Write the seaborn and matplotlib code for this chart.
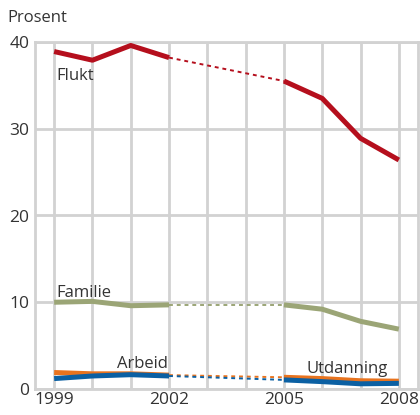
import matplotlib
matplotlib.use("Agg")
import matplotlib.pyplot as plt
import seaborn as sns
import pandas as pd

years = [1999, 2000, 2001, 2002, 2005, 2006, 2007, 2008]
flukt = [38.9, 37.9, 39.6, 38.2, 35.5, 33.5, 28.9, 26.4]
familie = [10.0, 10.1, 9.6, 9.7, 9.7, 9.2, 7.8, 6.9]
utdanning = [1.9, 1.75, 1.75, 1.6, 1.35, 1.2, 0.95, 0.9]
arbeid = [1.2, 1.5, 1.65, 1.5, 1.05, 0.85, 0.6, 0.65]
series_names = ["Flukt", "Familie", "Utdanning", "Arbeid"]
colors = {"Flukt": "#b50f1d", "Familie": "#9ba576", "Utdanning": "#e8731e", "Arbeid": "#0b60a3"}
x_ticks = [1999, 2002, 2005, 2008]
y_ticks = [0, 10, 20, 30, 40]

sns.set_style("white")
plt.rcParams["font.family"] = ["Open Sans", "DejaVu Sans"]

rows = []
for name, vals in zip(series_names, [flukt, familie, utdanning, arbeid]):
    for y, v in zip(years, vals):
        rows.append({"year": y, "value": v, "serie": name,
                     "seg": "a" if y <= 2002 else "b"})
df = pd.DataFrame(rows)

fig = plt.figure(figsize=(4.2, 4.15), dpi=100)
ax = fig.add_axes([35/420, 26/415, 383/420, 347/415])

grid_c = "#d2d2d2"
for yr in range(1999, 2009):
    ax.axvline(yr, color=grid_c, lw=2, zorder=0)
for t in y_ticks:
    ax.axhline(t, color=grid_c, lw=2, zorder=0)

# dashed links between 2002 and 2005
gap = df[df["year"].isin([2002, 2005])]
for name in series_names:
    sns.lineplot(data=gap[gap["serie"] == name], x="year", y="value",
                 color=colors[name], lw=1.4, ls=(0, (2, 2)), ax=ax, zorder=2)
for name in series_names:
    for seg in ["a", "b"]:
        d = df[(df["serie"] == name) & (df["seg"] == seg)]
        sns.lineplot(data=d, x="year", y="value", color=colors[name],
                     lw=3.6, ax=ax, zorder=3, solid_capstyle="butt")

ax.set_xlim(1998.5, 2008.5)
ax.set_ylim(0, 40)
ax.set_xticks(x_ticks)
ax.set_yticks(y_ticks)
ax.set_xlabel("")
ax.set_ylabel("")
for s in ax.spines.values():
    s.set_color(grid_c)
    s.set_linewidth(2)
ax.tick_params(axis="both", length=0, labelsize=12.5, colors="#333333")
ax.tick_params(axis="x", pad=2)
ax.tick_params(axis="y", pad=4)

tc = "#333333"
ax.text(1999.05, 35.6, "Flukt", fontsize=12, color=tc)
ax.text(1999.05, 10.6, "Familie", fontsize=12, color=tc)
ax.text(2000.65, 2.4, "Arbeid", fontsize=12, color=tc)
ax.text(2005.6, 1.9, "Utdanning", fontsize=12, color=tc)
fig.text(7/420, 1 - 18/415, "Prosent", fontsize=12, color=tc, va="center")

fig.savefig("out.png", dpi=100, facecolor="white")
